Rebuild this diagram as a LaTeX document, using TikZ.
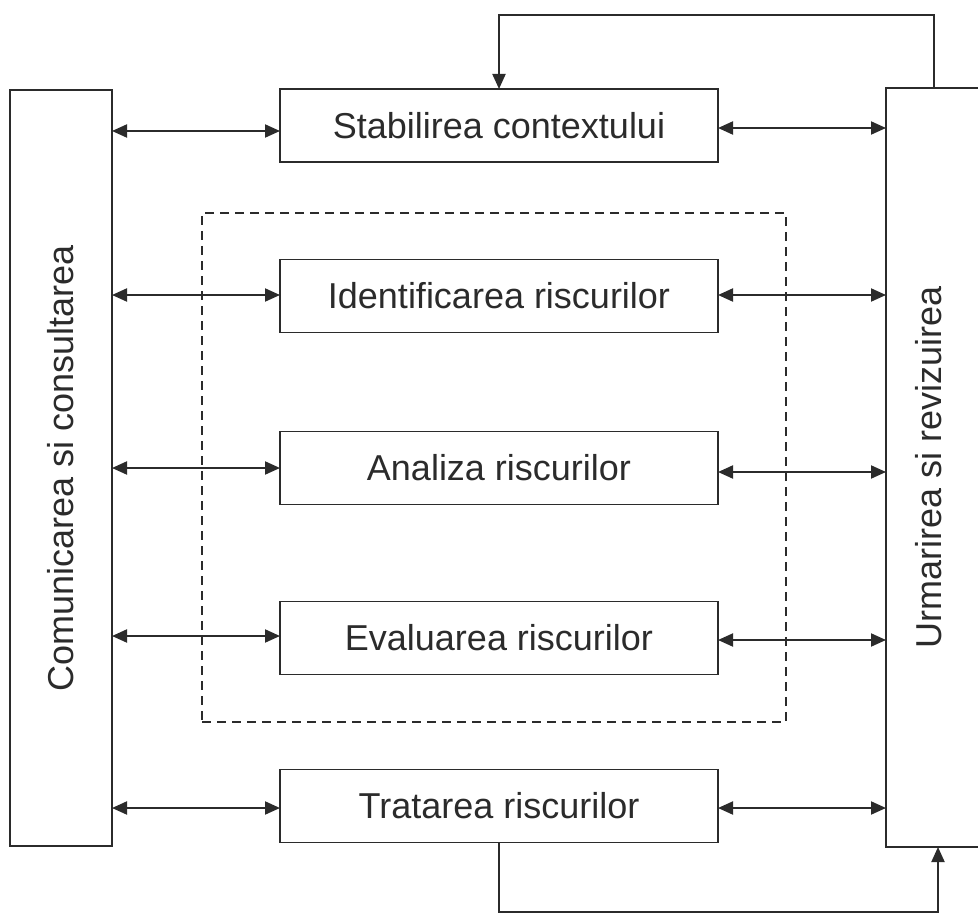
\documentclass[tikz,border=0pt]{standalone}
\usepackage{fontspec}
\setmainfont{Liberation Sans}
\usetikzlibrary{arrows.meta}
\definecolor{ink}{HTML}{2B2B2B}
\begin{document}
\begin{tikzpicture}[x=1pt,y=-1pt,
  every node/.style={inner sep=0pt,outer sep=0pt},
  procbox/.style={draw=ink,line width=1.4pt,minimum width=438pt,minimum height=73pt,
    font=\fontsize{36}{43}\selectfont,text=ink},
  sidebox/.style={draw=ink,line width=1.4pt},
  sidetext/.style={font=\fontsize{36}{43}\selectfont,text=ink,rotate=90},
  dbl/.style={draw=ink,line width=2pt,{Triangle[length=15pt,width=13pt]}-{Triangle[length=15pt,width=13pt]}},
  single/.style={draw=ink,line width=2pt,-{Triangle[length=15pt,width=13pt]}},
  grpbox/.style={draw=ink,line width=1.4pt,dash pattern=on 9pt off 6pt}
]
\useasboundingbox (0,0) rectangle (978,915);
\clip (0,0) rectangle (978,915);

% side boxes
\node[sidebox,minimum width=102pt,minimum height=756pt] (lbox) at (61,468) {};
\node[sidetext] (ltext) at (lbox.center) {Comunicarea si consultarea};
\node[sidebox,minimum width=104pt,minimum height=759pt] (rbox) at (938,467.5) {};
\node[sidetext] (rtext) at (929,467.5) {Urmarirea si revizuirea};

% dashed group
\node[grpbox,minimum width=584pt,minimum height=509pt] (grp) at (494,467.5) {};

% process boxes
\node[procbox] (stab) at (499,125.5) {Stabilirea contextului};
\node[procbox] (ident) at (499,296) {Identificarea riscurilor};
\node[procbox] (anal) at (499,468) {Analiza riscurilor};
\node[procbox] (eval) at (499,638) {Evaluarea riscurilor};
\node[procbox] (trat) at (499,806) {Tratarea riscurilor};

% helper coordinates for arrow heights
\coordinate (l1) at (0,131);  \coordinate (r1) at (0,128);
\coordinate (l2) at (0,295);  \coordinate (r2) at (0,295);
\coordinate (l3) at (0,468);  \coordinate (r3) at (0,472);
\coordinate (l4) at (0,636);  \coordinate (r4) at (0,640);
\coordinate (l5) at (0,808);  \coordinate (r5) at (0,808);

\draw[dbl] (lbox.east |- l1) -- (stab.west |- l1);
\draw[dbl] (stab.east |- r1) -- (rbox.west |- r1);
\draw[dbl] (lbox.east |- l2) -- (ident.west |- l2);
\draw[dbl] (ident.east |- r2) -- (rbox.west |- r2);
\draw[dbl] (lbox.east |- l3) -- (anal.west |- l3);
\draw[dbl] (anal.east |- r3) -- (rbox.west |- r3);
\draw[dbl] (lbox.east |- l4) -- (eval.west |- l4);
\draw[dbl] (eval.east |- r4) -- (rbox.west |- r4);
\draw[dbl] (lbox.east |- l5) -- (trat.west |- l5);
\draw[dbl] (trat.east |- r5) -- (rbox.west |- r5);

% feedback loops
\coordinate (t1) at (934,15);
\draw[single] (rbox.north -| t1) -- (t1) -| (stab.north);
\coordinate (b1) at (938,912);
\draw[single] (trat.south) |- (b1) -- (rbox.south -| b1);
\end{tikzpicture}
\end{document}
